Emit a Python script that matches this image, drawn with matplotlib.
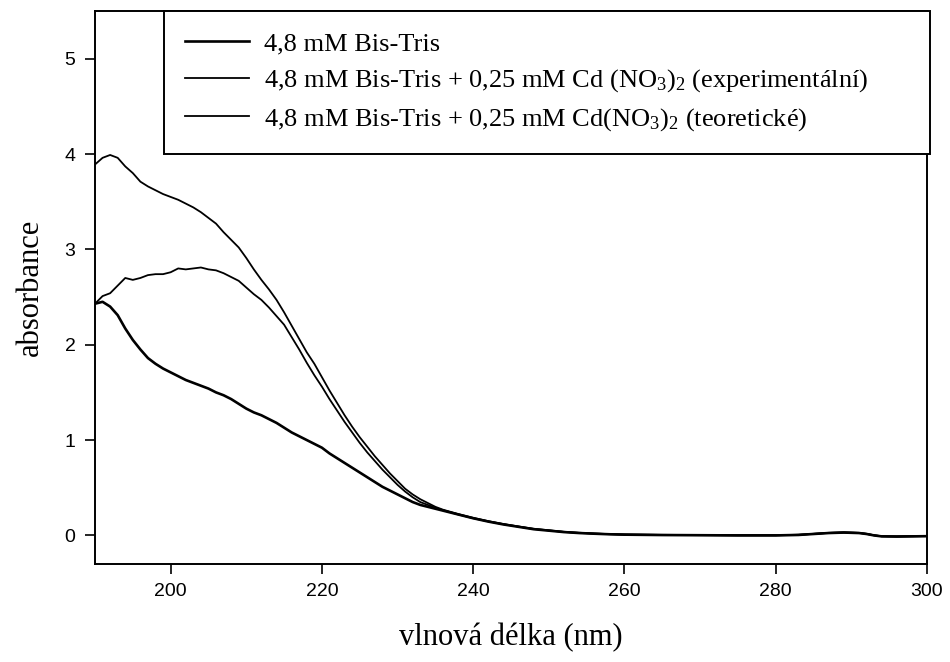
import numpy as np
import matplotlib
matplotlib.use('Agg')
import matplotlib.pyplot as plt

plt.rcParams.update({'mathtext.fontset': 'custom', 'mathtext.rm': 'Liberation Serif',
                     'mathtext.it': 'Liberation Serif:italic'})

# wavelength (nm)
wl = [190, 191, 192, 193, 194, 195, 196, 197, 198, 199, 200, 201, 202, 203, 204, 205,
      206, 207, 208, 209, 210, 211, 212, 213, 214, 215, 216, 217, 218, 219, 220, 221,
      222, 223, 224, 225, 226, 227, 228, 229, 230, 231, 232, 233, 234, 235, 236, 238,
      240, 242, 244, 246, 248, 250, 252, 254, 256, 258, 260, 265, 270, 275, 280, 283,
      285, 287, 289, 291, 292, 293, 294, 296, 298, 300]

# 4,8 mM Bis-Tris
bistris = [2.43, 2.45, 2.40, 2.31, 2.17, 2.05, 1.95, 1.86, 1.80, 1.75, 1.71, 1.67, 1.63, 1.60,
           1.57, 1.54, 1.50, 1.47, 1.43, 1.38, 1.33, 1.29, 1.26, 1.22, 1.18, 1.13, 1.08, 1.04,
           1.00, 0.96, 0.92, 0.86, 0.81, 0.76, 0.71, 0.66, 0.61, 0.56, 0.51, 0.47, 0.43, 0.39,
           0.35, 0.32, 0.30, 0.28, 0.26, 0.22, 0.18, 0.145, 0.115, 0.09, 0.065, 0.05, 0.035,
           0.025, 0.018, 0.012, 0.008, 0.004, 0.002, 0.0, 0.0, 0.005, 0.015, 0.025, 0.03,
           0.025, 0.015, 0.0, -0.01, -0.012, -0.01, -0.008]

# + 0,25 mM Cd(NO3)2, experimental
exper = [3.89, 3.96, 3.99, 3.96, 3.87, 3.80, 3.71, 3.66, 3.62, 3.58, 3.55, 3.52, 3.48, 3.44,
         3.39, 3.33, 3.27, 3.18, 3.10, 3.02, 2.91, 2.79, 2.68, 2.58, 2.47, 2.34, 2.20, 2.06,
         1.92, 1.80, 1.66, 1.52, 1.39, 1.26, 1.14, 1.03, 0.93, 0.83, 0.74, 0.65, 0.57, 0.49,
         0.43, 0.38, 0.34, 0.30, 0.27, 0.225, 0.185, 0.15, 0.12, 0.094, 0.07, 0.054, 0.038,
         0.028, 0.02, 0.014, 0.01, 0.006, 0.004, 0.002, 0.002, 0.007, 0.017, 0.027, 0.032,
         0.027, 0.017, 0.002, -0.008, -0.01, -0.008, -0.006]

# + 0,25 mM Cd(NO3)2, theoretical
theor = [2.43, 2.51, 2.54, 2.62, 2.70, 2.68, 2.70, 2.73, 2.74, 2.74, 2.76, 2.80, 2.79, 2.80,
         2.81, 2.79, 2.78, 2.75, 2.71, 2.67, 2.60, 2.53, 2.47, 2.39, 2.30, 2.21, 2.08, 1.95,
         1.81, 1.68, 1.56, 1.43, 1.31, 1.19, 1.08, 0.97, 0.87, 0.78, 0.69, 0.61, 0.53, 0.46,
         0.40, 0.35, 0.32, 0.29, 0.265, 0.22, 0.18, 0.147, 0.117, 0.092, 0.067, 0.052, 0.036,
         0.026, 0.019, 0.013, 0.009, 0.005, 0.003, 0.001, 0.001, 0.006, 0.016, 0.026, 0.031,
         0.026, 0.016, 0.001, -0.009, -0.011, -0.009, -0.007]

labels = ['4,8 mM Bis-Tris',
          '4,8 mM Bis-Tris + 0,25 mM Cd (NO$_3$)$_2$ (experimentální)',
          '4,8 mM Bis-Tris + 0,25 mM Cd(NO$_3$)$_2$ (teoretické)']

fig = plt.figure(figsize=(9.5, 6.62), dpi=100)
ax = fig.add_axes([0.1, 0.148, 0.8758, 0.8354])
ax.plot(wl, bistris, color='black', lw=1.9, label=labels[0])
ax.plot(wl, exper, color='black', lw=1.3, label=labels[1])
ax.plot(wl, theor, color='black', lw=1.3, label=labels[2])

ax.set_xlim(190, 300)
ax.set_ylim(-0.3, 5.5)
ax.set_xticks([200, 220, 240, 260, 280, 300])
ax.set_yticks([0, 1, 2, 3, 4, 5])
for s in ax.spines.values():
    s.set_linewidth(1.4)
ax.tick_params(direction='out', length=7, width=1.2, labelsize=14, pad=7)
for t in ax.get_xticklabels() + ax.get_yticklabels():
    t.set_fontfamily('Liberation Sans')

ax.set_xlabel('vlnová délka (nm)', family='Liberation Serif', fontsize=22, labelpad=16)
ax.set_ylabel('absorbance', family='Liberation Serif', fontsize=22, labelpad=14)

leg = ax.legend(loc='upper left', bbox_to_anchor=(0.083, 0.749, 0.921, 0.251), mode='expand',
                borderaxespad=0, fancybox=False, framealpha=1, edgecolor='black',
                prop={'family': 'Liberation Serif', 'size': 19}, handlelength=2.4,
                handletextpad=0.6, labelspacing=0.45, borderpad=0.8)
leg.get_frame().set_linewidth(1.4)

fig.savefig('out.png', dpi=100)
